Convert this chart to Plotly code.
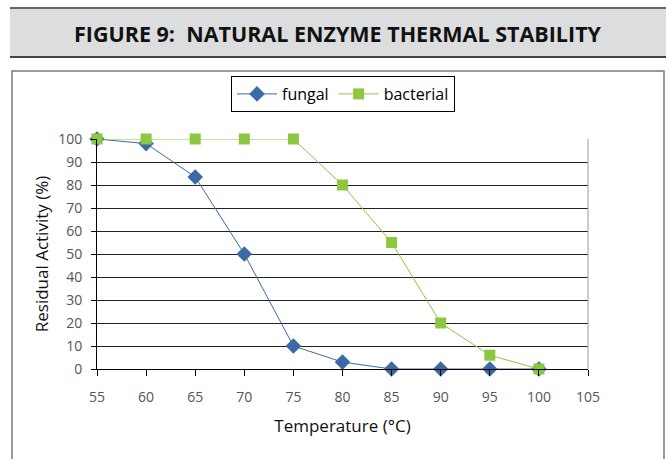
import plotly.graph_objects as go

temperature = [55, 60, 65, 70, 75, 80, 85, 90, 95, 100]
fungal = [100, 98, 83.5, 50, 10, 3, 0, 0, 0, 0]
bacterial = [100, 100, 100, 100, 100, 80, 55, 20, 6, 0]
x_ticks = [55, 60, 65, 70, 75, 80, 85, 90, 95, 100, 105]
y_ticks = [0, 10, 20, 30, 40, 50, 60, 70, 80, 90, 100]

W, H = 666, 459
L, R, T, B = 97, 588, 139, 369

def px(x):
    return (x - L) / (R - L)

def py(y):
    return (B - y) / (B - T)

FONT = "Open Sans"

fig = go.Figure()
fig.add_trace(go.Scatter(
    x=temperature, y=fungal, name="fungal", mode="lines+markers",
    line=dict(color="#3b6aa6", width=1),
    marker=dict(symbol="diamond", size=12, color="#3b6aa6"),
    cliponaxis=False,
))
fig.add_trace(go.Scatter(
    x=temperature, y=bacterial, name="bacterial", mode="lines+markers",
    line=dict(color="#8dc63f", width=1),
    marker=dict(symbol="square", size=11, color="#8dc63f"),
    cliponaxis=False,
))

shapes = [
    # title banner
    dict(type="rect", xref="paper", yref="paper", x0=px(10), x1=px(668), y0=py(57), y1=py(8),
         fillcolor="#dcdddf", line=dict(width=0), layer="below"),
    dict(type="line", xref="paper", yref="paper", x0=px(10), x1=px(668), y0=py(8), y1=py(8),
         line=dict(color="#666666", width=2)),
    dict(type="line", xref="paper", yref="paper", x0=px(10), x1=px(668), y0=py(57), y1=py(57),
         line=dict(color="#444444", width=2)),
    # chart box
    dict(type="rect", xref="paper", yref="paper", x0=px(12), x1=px(664), y0=py(480), y1=py(71),
         fillcolor="rgba(0,0,0,0)", line=dict(color="#7a7a7a", width=1.5), layer="below"),
    # right plot border
    dict(type="line", xref="paper", yref="paper", x0=1, x1=1, y0=0, y1=1,
         line=dict(color="#999999", width=1)),
]

fig.update_layout(
    width=W, height=H,
    margin=dict(l=L, r=W - R, t=T, b=H - B),
    paper_bgcolor="white", plot_bgcolor="white",
    font=dict(family=FONT, color="#333333", size=12),
    shapes=shapes,
    showlegend=True,
    legend=dict(
        orientation="h", x=px(343), xanchor="center", y=py(76), yanchor="top",
        bordercolor="#000000", borderwidth=1, bgcolor="white",
        font=dict(family=FONT, size=16, color="#000000"),
        itemwidth=40, tracegroupgap=0,
    ),
    annotations=[
        dict(text="<b>FIGURE 9:  NATURAL ENZYME THERMAL STABILITY</b>", xref="paper", yref="paper",
             x=px(338), y=py(33), xanchor="center", yanchor="middle", showarrow=False,
             font=dict(family=FONT, size=21.5, color="#111111")),
    ],
    xaxis=dict(
        range=[55, 105], tickvals=x_ticks, ticktext=[str(v) for v in x_ticks],
        showgrid=False, zeroline=False,
        showline=True, linecolor="#000000", linewidth=1,
        ticks="outside", ticklen=6, tickcolor="#000000",
        ticklabelstandoff=9,
        tickfont=dict(size=14, color="#555555"),
        title=dict(text="Temperature (°C)", font=dict(size=17, color="#111111"), standoff=15),
    ),
    yaxis=dict(
        range=[0, 100], tickvals=y_ticks, ticktext=[str(v) for v in y_ticks],
        showgrid=True, gridcolor="#222222", gridwidth=1, zeroline=False,
        showline=True, linecolor="#000000", linewidth=1,
        ticks="outside", ticklen=5, tickcolor="#000000",
        ticklabelstandoff=6,
        tickfont=dict(size=14, color="#555555"),
        title=dict(text="Residual Activity (%)", font=dict(size=17, color="#111111"), standoff=5),
    ),
)

fig.write_html("out.html", config={"displayModeBar": False},
               post_script="document.body.style.margin='0';")
